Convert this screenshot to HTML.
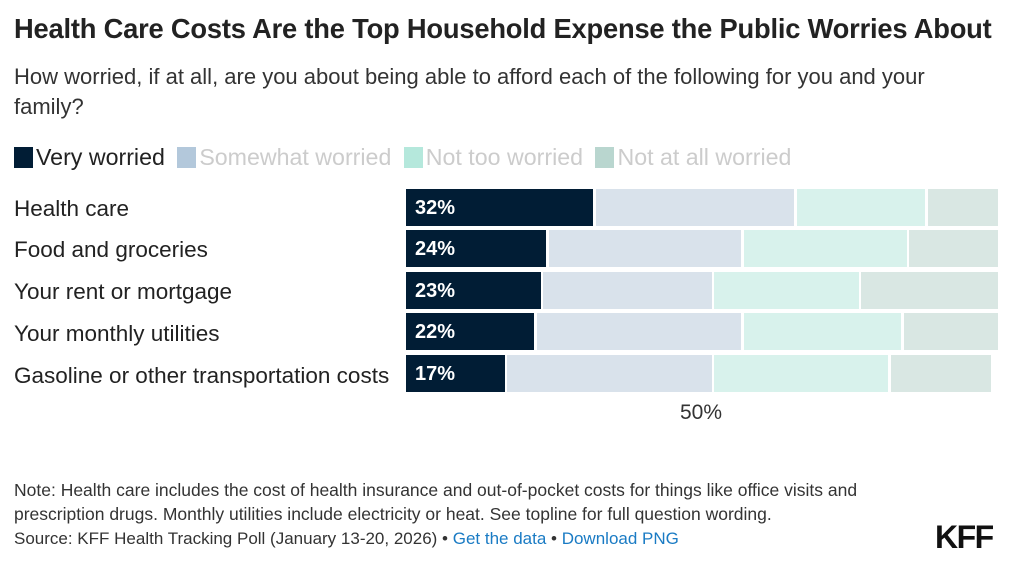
<!DOCTYPE html>
<html><head><meta charset="utf-8"><style>
body{margin:0;width:1024px;height:569px;background:#fff;font-family:"Liberation Sans",sans-serif;position:relative;overflow:hidden;color:#222}
.a{position:absolute;white-space:nowrap}
.b{position:absolute;height:37px}
.d{background:#011d35;color:#fff;font-weight:bold;font-size:20px;line-height:39px;padding-left:9px;box-sizing:border-box}
.s{background:#d9e2eb}.n{background:#d8f2ec}.z{background:#d9e7e3}
.lab{font-size:22.5px;color:#222;line-height:26px}
.sw{display:inline-block;width:19px;height:21px;vertical-align:-3px;margin-right:3px}
</style></head><body>
<div class="a" style="left:14px;top:13px;font-size:27.3px;font-weight:bold;color:#222;letter-spacing:-0.2px">Health Care Costs Are the Top Household Expense the Public Worries About</div>
<div class="a" style="left:14px;top:62px;font-size:22px;color:#333;line-height:30px;white-space:normal;width:965px">How worried, if at all, are you about being able to afford each of the following for you and your family?</div>
<div class="a" style="left:14px;top:144px;font-size:23.2px;color:#222"><span class="sw" style="background:#011d35"></span>Very worried <span style="color:#ccc"><span class="sw" style="background:#b3c8db;margin-left:6px"></span>Somewhat worried <span class="sw" style="background:#b5e8dc;margin-left:6px"></span>Not too worried <span class="sw" style="background:#b9d6cf;margin-left:6px"></span>Not at all worried</span></div>

<div class="a lab" style="left:14px;top:196px">Health care</div>
<div class="a lab" style="left:14px;top:237px">Food and groceries</div>
<div class="a lab" style="left:14px;top:279px">Your rent or mortgage</div>
<div class="a lab" style="left:14px;top:321px">Your monthly utilities</div>
<div class="a lab" style="left:14px;top:363px">Gasoline or other transportation costs</div>

<div class="b d" style="left:406px;top:189px;width:187px">32%</div>
<div class="b s" style="left:596px;top:189px;width:198px"></div>
<div class="b n" style="left:797px;top:189px;width:128px"></div>
<div class="b z" style="left:928px;top:189px;width:70px"></div>

<div class="b d" style="left:406px;top:230px;width:140px">24%</div>
<div class="b s" style="left:549px;top:230px;width:192px"></div>
<div class="b n" style="left:744px;top:230px;width:163px"></div>
<div class="b z" style="left:909px;top:230px;width:89px"></div>

<div class="b d" style="left:406px;top:272px;width:135px">23%</div>
<div class="b s" style="left:543px;top:272px;width:169px"></div>
<div class="b n" style="left:714px;top:272px;width:145px"></div>
<div class="b z" style="left:861px;top:272px;width:137px"></div>

<div class="b d" style="left:406px;top:313px;width:128px">22%</div>
<div class="b s" style="left:537px;top:313px;width:204px"></div>
<div class="b n" style="left:744px;top:313px;width:157px"></div>
<div class="b z" style="left:904px;top:313px;width:94px"></div>

<div class="b d" style="left:406px;top:355px;width:99px">17%</div>
<div class="b s" style="left:507px;top:355px;width:205px"></div>
<div class="b n" style="left:714px;top:355px;width:174px"></div>
<div class="b z" style="left:891px;top:355px;width:100px"></div>

<div class="a" style="left:680px;top:401px;font-size:21px;color:#333">50%</div>

<div class="a" style="left:14px;top:478px;font-size:17.5px;color:#333;line-height:24px">Note: Health care includes the cost of health insurance and out-of-pocket costs for things like office visits and<br>prescription drugs. Monthly utilities include electricity or heat. See topline for full question wording.</div>
<div class="a" style="left:14px;top:529px;font-size:17px;color:#333">Source: KFF Health Tracking Poll (January 13-20, 2026) • <span style="color:#1a7bc4">Get the data</span> • <span style="color:#1a7bc4">Download PNG</span></div>
<div class="a" style="left:935px;top:519px;font-size:32px;font-weight:bold;color:#111;letter-spacing:-1.5px">KFF</div>
</body></html>
